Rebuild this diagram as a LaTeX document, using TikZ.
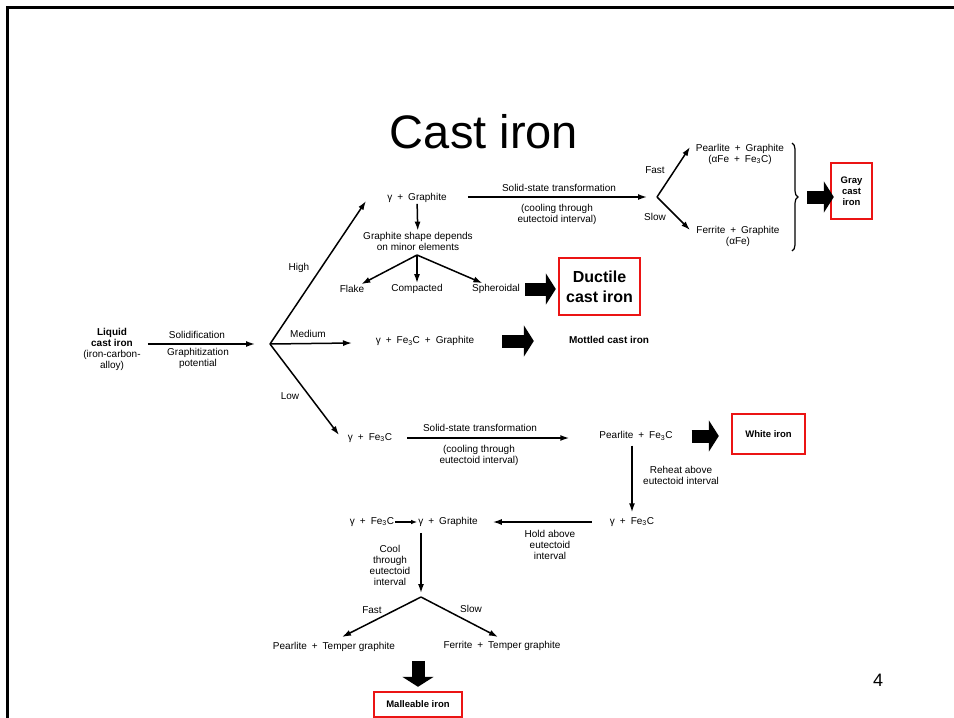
\documentclass[tikz,border=0pt]{standalone}
\usepackage{fontspec}
\setmainfont{Liberation Sans}
\usetikzlibrary{arrows.meta,calc,decorations.pathreplacing,positioning}
\definecolor{boxred}{RGB}{235,20,20}
\newcommand{\myplus}{\hskip0.5em+\hskip0.5em\relax}
\tikzset{
mytext/.style={
  inner sep=1pt,
  align=center,
  font=\fontsize{10}{11}\selectfont,
  }
}
\tikzset{
mybold/.style={
  mytext,
  font=\fontsize{10}{11}\selectfont\bfseries,
  }
}
\tikzset{
redbox/.style={
  draw=boxred,
  line width=2.4pt,
  inner sep=0pt,
  align=center,
  font=\fontsize{9.5}{11}\selectfont\bfseries,
  }
}
\tikzset{
myline/.style={
  line width=1.5pt,
  -{Latex[length=9pt,width=6pt]}
  }
}
\tikzset{
fatarrow/.style={
  line width=13pt,
  -{Triangle[length=10pt,width=31pt]}
  }
}

\begin{document}
\begin{tikzpicture}[x=1pt,y=-1pt]
    \useasboundingbox (0,0) rectangle (954,718);
    \draw[line width=3pt] (954,7.5) -- (7,7.5) -- (7,718);
    \node[font=\fontsize{47}{52}\selectfont] (title) at (484,132) {Cast iron};
    \node[font=\fontsize{18}{20}\selectfont] (pagenum) at (878,680) {4};

    % solidification part
    \node[mytext] (liquid) at (112,349) {\textbf{Liquid}\\\textbf{cast iron}\\(iron-carbon-\\alloy)};
    \coordinate (split) at (270,344);
    \node[mytext] (solid) at (197,335) {Solidification};
    \node[mytext] (potential) at (198,358) {Graphitization\\potential};
    \coordinate (hightip) at (366,201);
    \coordinate (medtip) at (352,343);
    \coordinate (lowtip) at (339,435);
    \node[mytext] (high) at (299,268) {High};
    \node[mytext] (medium) at (308,334) {Medium};
    \node[mytext] (low) at (290,396) {Low};

    % high part
    \node[mytext] (gg) at (417,198) {γ\myplus Graphite};
    \node[mytext] (shape) at (418,241) {Graphite shape depends\\on minor elements};
    \coordinate (shapesplit) at (417,255);
    \node[mytext] (flake) at (352,289) {Flake};
    \node[mytext] (compacted) at (417,289) {Compacted};
    \node[mytext] (spher) at (496,289) {Spheroidal};
    \node[redbox, minimum width=81pt, minimum height=57pt, font=\fontsize{16}{20}\selectfont\bfseries] (ductile) at (599.5,286.5) {Ductile\\cast iron};
    \node[mytext] (sst1) at (559,188) {Solid-state transformation};
    \node[mytext] (cool1) at (557,214) {(cooling through\\eutectoid interval)};
    \coordinate (fastsplit) at (657,197);
    \coordinate (fasttip) at (690,147);
    \coordinate (slowtip) at (690,230);
    \node[mytext] (fast1) at (655,170) {Fast};
    \node[mytext] (slow1) at (655,217) {Slow};
    \node[mytext] (pg) at (740,154) {Pearlite\myplus Graphite\\(αFe\myplus Fe\textsubscript{3}C)};
    \node[mytext] (fg) at (738,236) {Ferrite\myplus Graphite\\(αFe)};
    \coordinate (bracetop) at (792,143);
    \coordinate (bracebot) at (792,251);
    \coordinate (bracetip) at (801,197);
    \node[redbox, minimum width=41pt, minimum height=56pt] (gray) at (851.5,191) {Gray\\cast\\iron};

    % medium part
    \node[mytext] (mid) at (425,341) {γ\myplus Fe\textsubscript{3}C\myplus Graphite};
    \node[mybold] (mottled) at (609,340) {Mottled cast iron};

    % low part
    \node[mytext] (lowfe) at (370,438) {γ\myplus Fe\textsubscript{3}C};
    \node[mytext] (sst2) at (480,428) {Solid-state transformation};
    \node[mytext] (cool2) at (479,455) {(cooling through\\eutectoid interval)};
    \node[mytext] (pf) at (636,436) {Pearlite\myplus Fe\textsubscript{3}C};
    \node[redbox, minimum width=73pt, minimum height=40pt] (white) at (768.5,434) {White iron};
    \node[mytext] (reheat) at (681,475) {Reheat above\\eutectoid interval};
    \node[mytext] (ge2) at (632,522) {γ\myplus Fe\textsubscript{3}C};
    \node[mytext] (hold) at (550,545) {Hold above\\eutectoid\\interval};
    \node[mytext] (gc) at (372,522) {γ\myplus Fe\textsubscript{3}C};
    \node[mytext] (gg2) at (448,522) {γ\myplus Graphite};
    \coordinate (coolsplit) at (421,597);
    \node[mytext] (cool3) at (390,565) {Cool\\through\\eutectoid\\interval};
    \node[mytext] (fast2) at (372,610) {Fast};
    \node[mytext] (slow2) at (471,609) {Slow};
    \coordinate (ptgtip) at (342,637);
    \coordinate (ftgtip) at (498,637);
    \node[mytext] (ptg) at (334,647) {Pearlite\myplus Temper graphite};
    \node[mytext] (ftg) at (502,646) {Ferrite\myplus Temper graphite};
    \node[redbox, minimum width=88pt, minimum height=25pt] (malleable) at (418,704.5) {Malleable iron};

    % solidification edges
    \draw[myline, shorten <=6pt, shorten >=15pt] (liquid.east |- split) -- (split);
    \draw[myline] (split) -- (hightip);
    \draw[myline] (split) -- (medtip);
    \draw[myline] (split) -- (lowtip);

    % high edges
    \draw[myline] (gg) -- (shape);
    \draw[myline] (shapesplit) -- (flake);
    \draw[myline] (shapesplit) -- (compacted);
    \draw[myline] (shapesplit) -- (spher);
    \draw[fatarrow, shorten <=4pt, shorten >=2pt] (spher) -- (ductile.west |- spher);
    \draw[myline, shorten <=20pt, shorten >=10pt] (gg.east |- fastsplit) -- (fastsplit);
    \draw[myline] (fastsplit) -- (fasttip);
    \draw[myline] (fastsplit) -- (slowtip);
    \draw[line width=1.2pt, decorate, decoration={brace, amplitude=6pt}] (bracetop) -- (bracebot);
    \draw[fatarrow, shorten <=6pt, shorten >=-4pt] (bracetip) -- (gray.west |- bracetip);

    % medium edges
    \draw[fatarrow, shorten <=27pt, shorten >=34pt] (mid) -- (mottled.west |- mid);

    % low edges
    \draw[myline, shorten <=14pt, shorten >=29pt] (lowfe) -- (pf.west |- lowfe);
    \draw[fatarrow, shorten <=18pt, shorten >=12pt] (pf.east) -- (white.west |- pf.east);
    \draw[myline, shorten <=4pt, shorten >=4pt] (ge2 |- pf.south) -- (ge2);
    \draw[myline, shorten <=17pt, shorten >=14pt] (ge2.west) -- (gg2.east |- ge2.west);
    \draw[myline, -{Latex[length=6pt,width=4.5pt]}] (gc) -- (gg2);
    \draw[myline, shorten <=5pt, shorten >=4pt] (coolsplit |- gg2.south) -- (coolsplit);
    \draw[myline] (coolsplit) -- (ptgtip);
    \draw[myline] (coolsplit) -- (ftgtip);
    \draw[fatarrow, shorten <=8pt, shorten >=4pt] (malleable.north |- ptg.south) -- (malleable.north);
\end{tikzpicture}
\end{document}
